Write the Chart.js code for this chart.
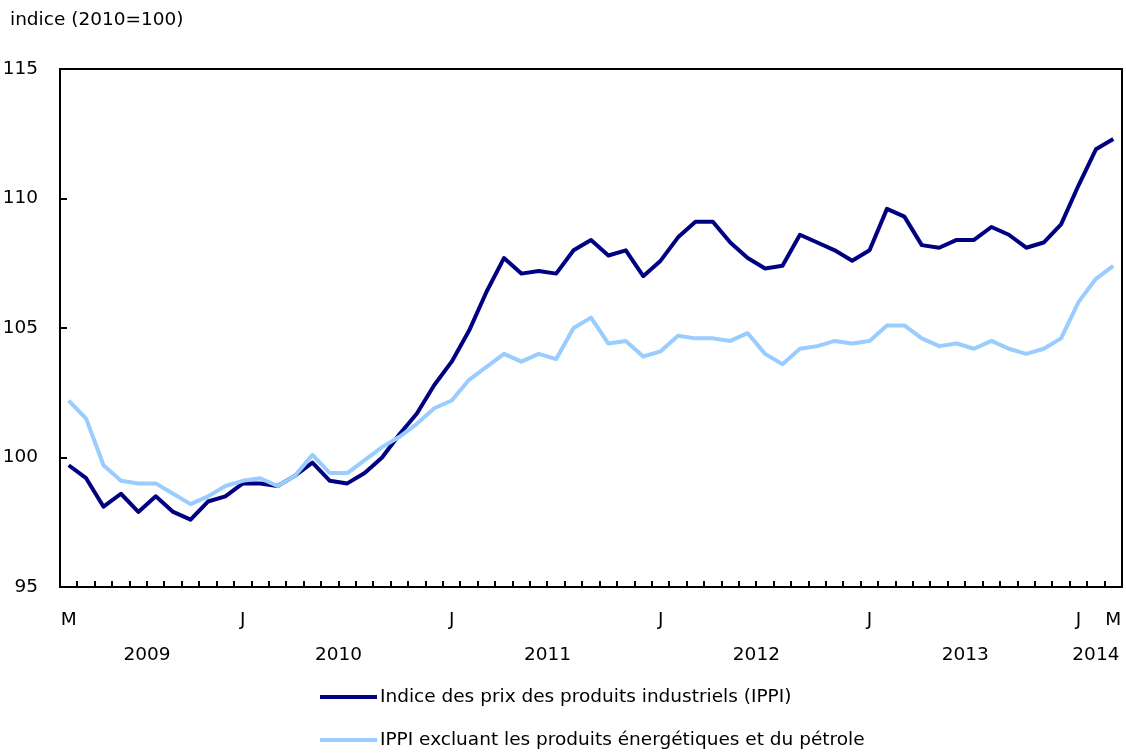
<!DOCTYPE html>
<html>
<head>
<meta charset="utf-8">
<script src="https://cdn.jsdelivr.net/npm/chart.js@4"></script>
<style>
  body { margin: 0; background: #fff; }
  canvas { display: block; }
</style>
</head>
<body>
<canvas id="ippiChart" width="1126" height="753"></canvas>
<script>
// monthly categories, March 2009 to March 2014
const months = [
    '2009-03', '2009-04', '2009-05', '2009-06', '2009-07', '2009-08', '2009-09', '2009-10', '2009-11', '2009-12',
    '2010-01', '2010-02', '2010-03', '2010-04', '2010-05', '2010-06', '2010-07', '2010-08', '2010-09', '2010-10', '2010-11', '2010-12',
    '2011-01', '2011-02', '2011-03', '2011-04', '2011-05', '2011-06', '2011-07', '2011-08', '2011-09', '2011-10', '2011-11', '2011-12',
    '2012-01', '2012-02', '2012-03', '2012-04', '2012-05', '2012-06', '2012-07', '2012-08', '2012-09', '2012-10', '2012-11', '2012-12',
    '2013-01', '2013-02', '2013-03', '2013-04', '2013-05', '2013-06', '2013-07', '2013-08', '2013-09', '2013-10', '2013-11', '2013-12',
    '2014-01', '2014-02', '2014-03'
];

// Indice des prix des produits industriels (IPPI)
const ippi = [
    99.7, 99.2, 98.1, 98.6, 97.9, 98.5, 97.9, 97.6, 98.3, 98.5,
    99.0, 99.0, 98.9, 99.3, 99.8, 99.1, 99.0, 99.4, 100.0, 100.9, 101.7, 102.8,
    103.7, 104.9, 106.4, 107.7, 107.1, 107.2, 107.1, 108.0, 108.4, 107.8, 108.0, 107.0,
    107.6, 108.5, 109.1, 109.1, 108.3, 107.7, 107.3, 107.4, 108.6, 108.3, 108.0, 107.6,
    108.0, 109.6, 109.3, 108.2, 108.1, 108.4, 108.4, 108.9, 108.6, 108.1, 108.3, 109.0,
    110.5, 111.9, 112.3
];

// IPPI excluant les produits energetiques et du petrole
const ippiExEnergy = [
    102.2, 101.5, 99.7, 99.1, 99.0, 99.0, 98.6, 98.2, 98.5, 98.9,
    99.1, 99.2, 98.9, 99.3, 100.1, 99.4, 99.4, 99.9, 100.4, 100.8, 101.3, 101.9,
    102.2, 103.0, 103.5, 104.0, 103.7, 104.0, 103.8, 105.0, 105.4, 104.4, 104.5, 103.9,
    104.1, 104.7, 104.6, 104.6, 104.5, 104.8, 104.0, 103.6, 104.2, 104.3, 104.5, 104.4,
    104.5, 105.1, 105.1, 104.6, 104.3, 104.4, 104.2, 104.5, 104.2, 104.0, 104.2, 104.6,
    106.0, 106.9, 107.4
];

// month letters shown under the axis
const tickLabels = {
    '2009-03': 'M', '2010-01': 'J', '2011-01': 'J', '2012-01': 'J',
    '2013-01': 'J', '2014-01': 'J', '2014-03': 'M'
};
const years = ['2009', '2010', '2011', '2012', '2013', '2014'];

const FONT = '"DejaVu Sans", sans-serif';
const SIZE = 18.5;
Chart.defaults.font.family = FONT;
Chart.defaults.font.size = SIZE;
Chart.defaults.color = '#000';

// box, inward ticks, year row, unit title and legend
const framePlugin = {
    id: 'framePlugin',
    afterDraw(chart) {
        const { ctx, chartArea: a, scales: { x, y } } = chart;
        ctx.save();
        ctx.strokeStyle = '#000';
        ctx.lineWidth = 2;
        ctx.strokeRect(a.left, a.top, a.right - a.left, a.bottom - a.top);

        const step = x.getPixelForValue(1) - x.getPixelForValue(0);
        ctx.beginPath();
        for (let i = 0; i < months.length - 1; i++) {
            const px = Math.round(x.getPixelForValue(i) + step / 2);
            ctx.moveTo(px, a.bottom);
            ctx.lineTo(px, a.bottom - 6);
        }
        y.ticks.forEach(t => {
            const py = Math.round(y.getPixelForValue(t.value));
            ctx.moveTo(a.left, py);
            ctx.lineTo(a.left + 7, py);
        });
        ctx.stroke();

        ctx.font = SIZE + 'px ' + FONT;
        ctx.fillStyle = '#000';
        ctx.textBaseline = 'middle';
        ctx.textAlign = 'center';
        years.forEach(yr => {
            const idx = months.map((m, i) => m.startsWith(yr) ? i : -1).filter(i => i >= 0);
            const mid = (idx[0] + idx[idx.length - 1]) / 2;
            ctx.fillText(yr, x.getPixelForValue(mid), 655);
        });

        ctx.textAlign = 'left';
        ctx.fillText('indice (2010=100)', 10, 20);

        chart.data.datasets.forEach((ds, i) => {
            const ly = 697 + i * 43;
            ctx.strokeStyle = ds.borderColor;
            ctx.lineWidth = 4;
            ctx.beginPath();
            ctx.moveTo(320, ly);
            ctx.lineTo(377, ly);
            ctx.stroke();
            ctx.fillText(ds.label, 380, ly);
        });
        ctx.restore();
    }
};

const ctx = document.getElementById('ippiChart').getContext('2d');

new Chart(ctx, {
    type: 'line',
    data: {
        labels: months,
        datasets: [{
            label: 'Indice des prix des produits industriels (IPPI)',
            data: ippi,
            borderColor: '#000080',
            borderWidth: 4,
            pointRadius: 0,
            borderJoinStyle: 'round',
            fill: false,
            order: 1
        }, {
            label: 'IPPI excluant les produits énergétiques et du pétrole',
            data: ippiExEnergy,
            borderColor: '#99CCFF',
            borderWidth: 4,
            pointRadius: 0,
            borderJoinStyle: 'round',
            fill: false,
            order: 0
        }]
    },
    options: {
        responsive: false,
        animation: false,
        layout: { padding: { left: 0, top: 69, right: 4, bottom: 0 } },
        plugins: {
            legend: { display: false },
            tooltip: { enabled: false }
        },
        scales: {
            x: {
                type: 'category',
                offset: true,
                grid: { display: false },
                border: { display: false },
                ticks: {
                    autoSkip: false,
                    maxRotation: 0,
                    padding: 14,
                    callback: (val, i) => tickLabels[months[i]] || ''
                },
                afterFit: scale => {
                    scale.height = 166;
                    scale.paddingLeft = 0;
                    scale.paddingRight = 0;
                }
            },
            y: {
                min: 95,
                max: 115,
                grid: { display: false },
                border: { display: false },
                ticks: { stepSize: 5, padding: 14 },
                afterFit: scale => {
                    scale.width = 60;
                    scale.paddingTop = 0;
                    scale.paddingBottom = 0;
                }
            }
        }
    },
    plugins: [framePlugin]
});
</script>
</body>
</html>
